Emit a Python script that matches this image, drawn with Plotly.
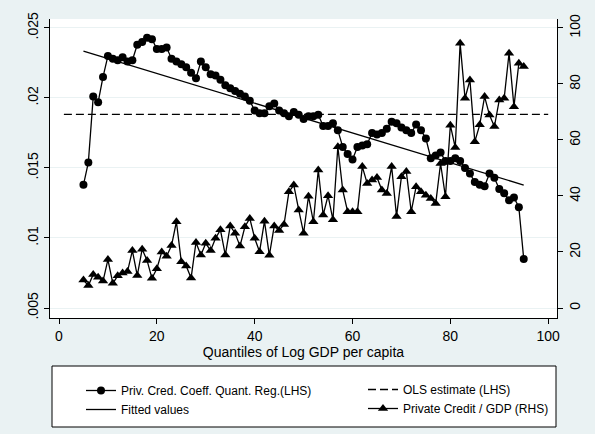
import numpy as np
import plotly.graph_objects as go

# ---- data ----
quantiles = list(range(5, 96))

# Private credit coefficient from quantile regression (LHS)
coef = [
    0.0138, 0.0154, 0.0201, 0.0197, 0.0215, 0.0230, 0.0228, 0.0227, 0.0229, 0.0226,   # 5-14
    0.0227, 0.0238, 0.0240, 0.0243, 0.0242, 0.0235, 0.0235, 0.0236, 0.0228, 0.0226,   # 15-24
    0.0224, 0.0222, 0.0218, 0.0214, 0.0226, 0.0222, 0.0217, 0.0216, 0.0213, 0.0209,   # 25-34
    0.0207, 0.0205, 0.0203, 0.0201, 0.0198, 0.0191, 0.0189, 0.0189, 0.0194, 0.0196,   # 35-44
    0.0191, 0.0189, 0.0187, 0.0190, 0.0188, 0.0185, 0.0187, 0.0187, 0.0188, 0.0180,   # 45-54
    0.0180, 0.0182, 0.0177, 0.0165, 0.0160, 0.0156, 0.0165, 0.0166, 0.0167, 0.0175,   # 55-64
    0.0174, 0.0175, 0.0178, 0.0183, 0.0182, 0.0179, 0.0177, 0.0175, 0.0181, 0.0177,   # 65-74
    0.0171, 0.0157, 0.0159, 0.0161, 0.0155, 0.0155, 0.0157, 0.0155, 0.0150, 0.0146,   # 75-84
    0.0140, 0.0138, 0.0137, 0.0146, 0.0143, 0.0135, 0.0132, 0.0127, 0.0129, 0.0122,   # 85-94
    0.0085,                                                                           # 95
]

# Private credit / GDP (RHS)
credit = [
    10.0, 8.0, 12.0, 11.0, 9.6, 17.3, 8.8, 11.5, 12.5, 13.0,        # 5-14
    20.5, 11.6, 21.0, 17.0, 10.6, 14.0, 20.0, 18.5, 22.3, 30.8,     # 15-24
    16.5, 15.0, 10.7, 23.4, 18.9, 23.1, 20.5, 24.9, 27.9, 18.9,     # 25-34
    29.3, 26.7, 22.1, 29.0, 32.0, 24.9, 20.1, 31.0, 18.8, 29.3,     # 35-44
    27.7, 29.8, 41.5, 43.9, 35.0, 26.7, 39.9, 30.8, 49.3, 33.2,     # 45-54
    40.1, 31.5, 57.6, 42.1, 34.4, 34.4, 34.4, 50.5, 44.5, 45.7,     # 55-64
    46.6, 42.1, 40.9, 50.5, 32.7, 46.9, 48.7, 34.4, 43.3, 41.5,     # 65-74
    40.3, 39.1, 37.3, 51.6, 39.7, 65.3, 57.3, 94.5, 74.9, 81.4,     # 75-84
    59.4, 65.4, 75.5, 68.9, 64.8, 74.3, 74.9, 91.0, 71.9, 87.4,     # 85-94
    86.2,                                                           # 95
]

ols_estimate = 0.01883
ols_x = [1, 100]

left_ticks = [0.005, 0.01, 0.015, 0.02, 0.025]
left_ticktext = [".005", ".01", ".015", ".02", ".025"]
right_ticks = [0, 20, 40, 60, 80, 100]
x_ticks = [0, 20, 40, 60, 80, 100]

# Linear fit of the coefficient on the quantile ("Fitted values")
slope, intercept = np.polyfit(quantiles, coef, 1)
fitted = [intercept + slope * q for q in quantiles]

BLACK = "black"
BG = "#EAF2F3"
W, H = 595, 434

fig = go.Figure()
fig.add_trace(go.Scatter(
    x=quantiles, y=coef, mode="lines+markers",
    name="Priv. Cred. Coeff. Quant. Reg.(LHS)", legend="legend",
    line=dict(color=BLACK, width=1.3),
    marker=dict(symbol="circle", size=8, color=BLACK),
))
fig.add_trace(go.Scatter(
    x=quantiles, y=fitted, mode="lines",
    name="Fitted values", legend="legend",
    line=dict(color=BLACK, width=1.3),
))
fig.add_trace(go.Scatter(
    x=ols_x, y=[ols_estimate] * len(ols_x), mode="lines",
    name="OLS estimate (LHS)", legend="legend2",
    line=dict(color=BLACK, width=1.3, dash="8px,4px"),
))
fig.add_trace(go.Scatter(
    x=quantiles, y=credit, mode="lines+markers", yaxis="y2",
    name="Private Credit / GDP (RHS)", legend="legend2",
    line=dict(color=BLACK, width=1.3),
    marker=dict(symbol="triangle-up", size=9, color=BLACK),
))

legend_common = dict(
    orientation="v", xref="container", yref="container",
    xanchor="left", yanchor="top", bgcolor="rgba(0,0,0,0)",
    borderwidth=0, font=dict(size=12), traceorder="normal",
    tracegroupgap=0,
)

fig.update_layout(
    width=W, height=H,
    margin=dict(l=50, r=38, t=19, b=116, autoexpand=False),
    paper_bgcolor=BG, plot_bgcolor="white",
    font=dict(family="Liberation Sans, Arial, sans-serif", size=14, color=BLACK),
    showlegend=True,
    xaxis=dict(
        range=[-1.84, 101.8], tickvals=x_ticks, ticks="outside", ticklen=5,
        tickcolor=BLACK, showline=True, linecolor=BLACK, linewidth=1,
        showgrid=False, zeroline=False,
        title=dict(text="Quantiles of Log GDP per capita", standoff=1,
                   font=dict(size=14)),
    ),
    yaxis=dict(
        range=[0.004286, 0.02564], tickvals=left_ticks, ticktext=left_ticktext,
        tickangle=-90, ticks="outside", ticklen=5, tickcolor=BLACK,
        showline=True, linecolor=BLACK, linewidth=1,
        showgrid=True, gridcolor=BG, gridwidth=1, zeroline=False,
    ),
    yaxis2=dict(
        overlaying="y", side="right", range=[-3.57, 103.2],
        tickvals=right_ticks, tickangle=-90, ticks="outside", ticklen=5,
        tickcolor=BLACK, showline=True, linecolor=BLACK, linewidth=1,
        showgrid=False, zeroline=False,
    ),
    legend=dict(legend_common, x=81 / W, y=1 - 376 / H),
    legend2=dict(legend_common, x=363 / W, y=1 - 375 / H),
    shapes=[dict(
        type="rect", xref="paper", yref="paper",
        x0=(52 - 50) / 507, x1=(556 - 50) / 507,
        y0=(318 - 427) / 299, y1=(318 - 366) / 299,
        line=dict(color=BLACK, width=1), fillcolor="white", layer="below",
    )],
)

fig.write_html(
    "out.html",
    config={"displayModeBar": False},
    post_script="document.body.style.margin='0';",
)
